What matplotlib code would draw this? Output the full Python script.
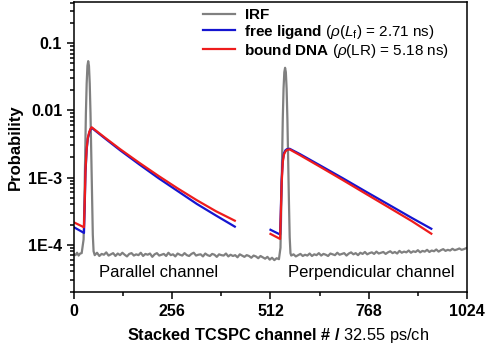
import numpy as np
import matplotlib
matplotlib.use('Agg')
import matplotlib.pyplot as plt
from matplotlib.ticker import LogLocator, FixedLocator, NullFormatter

plt.rcParams['font.family'] = ['Liberation Sans', 'DejaVu Sans']
plt.rcParams['mathtext.fontset'] = 'custom'
plt.rcParams['mathtext.rm'] = 'Liberation Sans'
plt.rcParams['mathtext.it'] = 'Liberation Sans:italic'
plt.rcParams['mathtext.bf'] = 'Liberation Sans:bold'

# IRF (values in units of 1e-5)
irf_pre_ch = np.arange(0, 24, 4)
irf_pre = [7.3, 7.0, 7.6, 6.9, 7.4, 7.5]
irf_par_peak_ch = [25, 27, 29, 31, 33, 35, 37, 39, 41, 43, 45, 47, 49, 51]
irf_par_peak = [12, 40, 200, 900, 2500, 4600, 5400, 4600, 2500, 900, 220, 50, 14, 8]
irf_par_tail_ch = np.arange(54, 540, 6)
irf_par_tail = [7.0, 7.6, 6.8, 7.3, 7.1, 7.7, 6.9, 7.2, 7.5, 6.8,
                7.4, 7.0, 7.6, 7.1, 6.7, 7.3, 7.5, 6.9, 7.2, 7.0,
                7.6, 6.8, 7.3, 7.1, 7.4, 6.6, 7.2, 7.5, 6.9, 7.1,
                7.3, 6.8, 7.6, 7.0, 7.2, 6.7, 7.4, 7.1, 6.9, 7.5,
                7.0, 6.8, 7.3, 7.6, 6.9, 7.1, 7.2, 6.7, 7.4, 7.0,
                6.8, 7.3, 7.1, 6.6, 7.2, 7.0, 6.9, 7.4, 6.7, 7.1,
                6.8, 7.0, 6.5, 7.2, 6.9, 6.6, 7.0, 6.8, 6.4, 6.9,
                6.7, 6.3, 6.8, 6.5, 6.2, 6.6, 6.0, 6.4, 5.9, 6.3, 6.1]
irf_perp_peak_ch = [538, 540, 542, 544, 546, 548, 550, 552, 554, 556, 558, 560, 562, 564]
irf_perp_peak = [9, 35, 170, 750, 2100, 3700, 4300, 3700, 2100, 750, 180, 45, 13, 7.5]
irf_perp_tail_ch = np.arange(566, 1025, 6)
irf_perp_tail = [6.9, 7.2, 6.7, 7.0, 7.3, 6.8, 7.1, 6.9, 7.4, 6.8,
                 7.2, 7.0, 7.5, 6.9, 7.3, 7.1, 6.8, 7.4, 7.2, 7.0,
                 7.6, 7.1, 7.3, 7.5, 6.9, 7.4, 7.7, 7.2, 7.5, 7.0,
                 7.6, 7.3, 7.8, 7.2, 7.5, 7.7, 7.3, 7.9, 7.4, 7.6,
                 7.8, 7.3, 7.7, 8.0, 7.5, 7.8, 7.4, 8.1, 7.6, 7.9,
                 7.7, 8.2, 7.6, 8.0, 7.8, 8.3, 7.7, 8.1, 7.9, 8.4,
                 7.8, 8.2, 8.0, 8.5, 7.9, 8.3, 8.6, 8.1, 8.4, 8.2,
                 8.7, 8.3, 8.5, 8.8, 8.4, 8.6, 8.9]

# fitted decays
par_ch = [0, 26, 28, 30, 33, 36, 40, 43, 46, 80, 120, 170, 220, 270, 320, 370, 419]
free_par = [1.82e-4, 1.5e-4, 4e-4, 1.2e-3, 2.6e-3, 3.8e-3, 4.7e-3, 5.2e-3, 5.5e-3,
            3.85e-3, 2.55e-3, 1.57e-3, 9.8e-4, 6.3e-4, 4.05e-4, 2.72e-4, 1.86e-4]
bound_par = [2.15e-4, 1.82e-4, 4.5e-4, 1.3e-3, 2.7e-3, 3.9e-3, 4.8e-3, 5.3e-3, 5.6e-3,
             3.95e-3, 2.65e-3, 1.66e-3, 1.06e-3, 6.9e-4, 4.6e-4, 3.15e-4, 2.28e-4]
perp_ch = [512, 537, 539, 541, 544, 547, 551, 555, 562, 589, 640, 700, 760, 820, 880, 931]
free_perp = [1.67e-4, 1.42e-4, 3.5e-4, 9e-4, 1.8e-3, 2.3e-3, 2.55e-3, 2.65e-3, 2.68e-3,
             2.23e-3, 1.53e-3, 9.8e-4, 6.2e-4, 3.95e-4, 2.51e-4, 1.73e-4]
bound_perp = [1.45e-4, 1.22e-4, 3.0e-4, 8e-4, 1.7e-3, 2.2e-3, 2.45e-3, 2.58e-3, 2.62e-3,
              2.15e-3, 1.46e-3, 9.2e-4, 5.75e-4, 3.6e-4, 2.25e-4, 1.46e-4]

irf_ch = np.concatenate([irf_pre_ch, irf_par_peak_ch, irf_par_tail_ch, irf_perp_peak_ch, irf_perp_tail_ch])
irf = np.concatenate([irf_pre, irf_par_peak, irf_par_tail, irf_perp_peak, irf_perp_tail]) * 1e-5

fig = plt.figure(figsize=(4.89, 3.46), dpi=100)
ax = fig.add_axes([74 / 489, 1 - 291.7 / 346, (467 - 74) / 489, (291.7 - 2) / 346])

lw = 1.6
l1, = ax.plot(irf_ch, irf, color='#808080', lw=lw)
l2, = ax.plot(par_ch, free_par, color='#1515d0', lw=lw)
ax.plot(perp_ch, free_perp, color='#1515d0', lw=lw)
l3, = ax.plot(par_ch, bound_par, color='#ee1c1c', lw=lw)
ax.plot(perp_ch, bound_perp, color='#ee1c1c', lw=lw)

ax.set_yscale('log')
ax.set_ylim(2e-5, 0.41)
ax.set_xlim(0, 1024)

ax.yaxis.set_major_locator(FixedLocator([1e-4, 1e-3, 1e-2, 1e-1]))
ax.set_yticklabels(['1E-4', '1E-3', '0.01', '0.1'])
ax.yaxis.set_minor_locator(LogLocator(base=10, subs=np.arange(2, 10)))
ax.yaxis.set_minor_formatter(NullFormatter())
ax.set_xticks([0, 256, 512, 768, 1024])
ax.set_xticks([128, 384, 640, 896], minor=True)

ax.tick_params(which='both', direction='out', width=1.1, labelsize=11.5)
ax.tick_params(which='major', length=5)
ax.tick_params(which='minor', length=3)
for lab in ax.get_xticklabels() + ax.get_yticklabels():
    lab.set_fontweight('bold')
for s in ax.spines.values():
    s.set_linewidth(1.1)

ax.set_ylabel('Probability', fontsize=12, fontweight='bold', labelpad=4)
ax.set_xlabel(r'$\mathbf{Stacked\ TCSPC\ channel\ \#\ /}$ 32.55 ps/ch', fontsize=11.8, labelpad=5)
ax.xaxis.set_label_coords(0.52, -0.12)

ax.text(0.215, 0.065, 'Parallel channel', transform=ax.transAxes, fontsize=12, ha='center', va='center')
ax.text(0.756, 0.065, 'Perpendicular channel', transform=ax.transAxes, fontsize=12, ha='center', va='center')

labels = [r'$\mathbf{IRF}$',
          r'$\mathbf{free\ ligand}$ ($\rho$($\mathit{L}_\mathrm{f}$) = 2.71 ns)',
          r'$\mathbf{bound\ DNA}$ ($\rho$(LR) = 5.18 ns)']
fig.legend([l1, l2, l3], labels, loc='upper left', bbox_to_anchor=(203 / 489, 1 - 8 / 346),
           frameon=False, fontsize=11, handlelength=2.1, handletextpad=0.6,
           labelspacing=0.05, borderpad=0, borderaxespad=0)

fig.savefig('out.png', dpi=100)
